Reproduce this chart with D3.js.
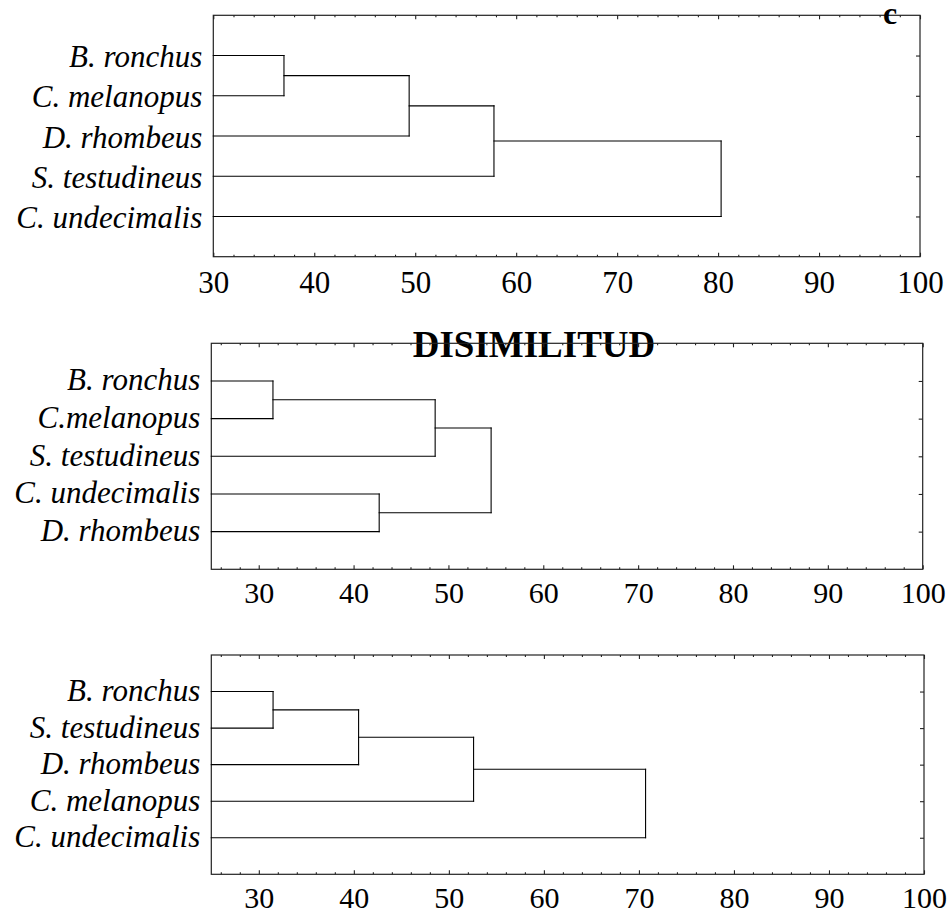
<!DOCTYPE html>
<html>
<head>
<meta charset="utf-8">
<script src="https://cdn.jsdelivr.net/npm/d3@7"></script>
<style>
  html, body { margin: 0; padding: 0; background: #fff; }
  svg { display: block; }
</style>
</head>
<body>
<svg id="chart" width="951" height="915"></svg>
<script>
// Species order (top to bottom) of each dendrogram
const leavesA = ["B. ronchus", "C. melanopus", "D. rhombeus", "S. testudineus", "C. undecimalis"];
const leavesB = ["B. ronchus", "C.melanopus", "S. testudineus", "C. undecimalis", "D. rhombeus"];
const leavesC = ["B. ronchus", "S. testudineus", "D. rhombeus", "C. melanopus", "C. undecimalis"];

// Linkage steps: [cluster i, cluster j, dissimilarity].
// Indices 0..4 are leaves; 5, 6, ... are the clusters formed by earlier steps.
const mergesA = [[0, 1, 37.0], [5, 2, 49.4], [6, 3, 57.8], [7, 4, 80.3]];
const mergesB = [[0, 1, 31.5], [5, 2, 48.6], [3, 4, 42.7], [6, 7, 54.5]];
const mergesC = [[0, 1, 31.5], [5, 2, 40.5], [6, 3, 52.6], [7, 4, 70.7]];

// Axis ranges and tick labels
const domainA = [30, 100];
const domainBC = [25, 100];
const majorTicks = [30, 40, 50, 60, 70, 80, 90, 100];

const titleText = "DISIMILITUD";
const panelLetter = "c";

const svg = d3.select("#chart");
const serif = "'Liberation Serif', 'Times New Roman', serif";

// Title sits under the middle frame so the frame line runs across it
svg.append("text")
  .attr("x", 534).attr("y", 357)
  .attr("text-anchor", "middle")
  .attr("font-family", serif)
  .attr("font-weight", "bold")
  .attr("font-size", 37)
  .attr("fill", "#000")
  .text(titleText);

function drawPanel(cfg) {
  const { leaves, merges, domain, left, right, top, bottom, labelDy, tickDy, tickFont } = cfg;
  const g = svg.append("g");

  const x = d3.scaleLinear().domain(domain).range([left, right]);
  const y = d3.scaleLinear().domain([0, leaves.length + 1]).range([top, bottom]);

  const minorTicks = d3.range(Math.ceil(domain[0] / 2) * 2, domain[1], 2)
    .filter(v => v % 10 !== 0 && v > domain[0]);

  // Frame
  g.append("rect")
    .attr("x", left).attr("y", top)
    .attr("width", right - left).attr("height", bottom - top)
    .attr("fill", "none")
    .attr("stroke", "#222")
    .attr("stroke-width", 1.2);

  const styleAxis = sel => {
    sel.select(".domain").remove();
    sel.selectAll(".tick line").attr("stroke", "#222").attr("stroke-width", 1.1);
  };

  // Inward ticks on bottom and top edges (major + minor)
  const bottomMajor = g.append("g").attr("transform", `translate(0,${bottom})`)
    .call(d3.axisBottom(x).tickValues(majorTicks).tickSize(-4).tickFormat(d3.format("d")));
  styleAxis(bottomMajor);
  bottomMajor.selectAll(".tick text")
    .attr("y", tickDy).attr("dy", 0)
    .attr("font-family", serif)
    .attr("font-size", tickFont)
    .attr("fill", "#000");

  g.append("g").attr("transform", `translate(0,${bottom})`)
    .call(d3.axisBottom(x).tickValues(minorTicks).tickSize(-2).tickFormat(""))
    .call(styleAxis);

  g.append("g").attr("transform", `translate(0,${top})`)
    .call(d3.axisTop(x).tickValues(majorTicks).tickSize(-4).tickFormat(""))
    .call(styleAxis);
  g.append("g").attr("transform", `translate(0,${top})`)
    .call(d3.axisTop(x).tickValues(minorTicks).tickSize(-2).tickFormat(""))
    .call(styleAxis);

  // Inward ticks on the right edge at each leaf row
  const rows = d3.range(1, leaves.length + 1);
  g.append("g").attr("transform", `translate(${right},0)`)
    .call(d3.axisRight(y).tickValues(rows).tickSize(-4).tickFormat(""))
    .call(styleAxis);

  // Leaf labels
  g.selectAll("text.leaf")
    .data(leaves)
    .join("text")
    .attr("class", "leaf")
    .attr("x", left - 11)
    .attr("y", (d, i) => y(i + 1) + labelDy)
    .attr("text-anchor", "end")
    .attr("font-family", serif)
    .attr("font-style", "italic")
    .attr("font-size", 31)
    .attr("fill", "#000")
    .text(d => d);

  // Build node positions from the linkage steps
  const nodes = leaves.map((d, i) => ({ h: domain[0], r: i + 1 }));
  const segs = [];
  merges.forEach(([a, b, h]) => {
    const na = nodes[a], nb = nodes[b];
    segs.push([na.h, na.r, h, na.r]);
    segs.push([nb.h, nb.r, h, nb.r]);
    segs.push([h, na.r, h, nb.r]);
    nodes.push({ h, r: (na.r + nb.r) / 2 });
  });

  g.selectAll("line.branch")
    .data(segs)
    .join("line")
    .attr("class", "branch")
    .attr("x1", d => x(d[0])).attr("y1", d => y(d[1]))
    .attr("x2", d => x(d[2])).attr("y2", d => y(d[3]))
    .attr("stroke", "#000")
    .attr("stroke-width", 1.1)
    .attr("stroke-linecap", "square");
}

drawPanel({ leaves: leavesA, merges: mergesA, domain: domainA,
  left: 213.3, right: 920, top: 15.3, bottom: 256.7, labelDy: 11.5, tickDy: 36.5, tickFont: 31 });
drawPanel({ leaves: leavesB, merges: mergesB, domain: domainBC,
  left: 211.3, right: 922.7, top: 343.3, bottom: 569.3, labelDy: 9.5, tickDy: 34, tickFont: 30 });
drawPanel({ leaves: leavesC, merges: mergesC, domain: domainBC,
  left: 211.3, right: 924, top: 655, bottom: 874.3, labelDy: 9.5, tickDy: 34, tickFont: 30 });

// Panel letter
svg.append("text")
  .attr("x", 890).attr("y", 24)
  .attr("text-anchor", "middle")
  .attr("font-family", serif)
  .attr("font-weight", "bold")
  .attr("font-size", 32)
  .attr("fill", "#000")
  .text(panelLetter);
</script>
</body>
</html>
